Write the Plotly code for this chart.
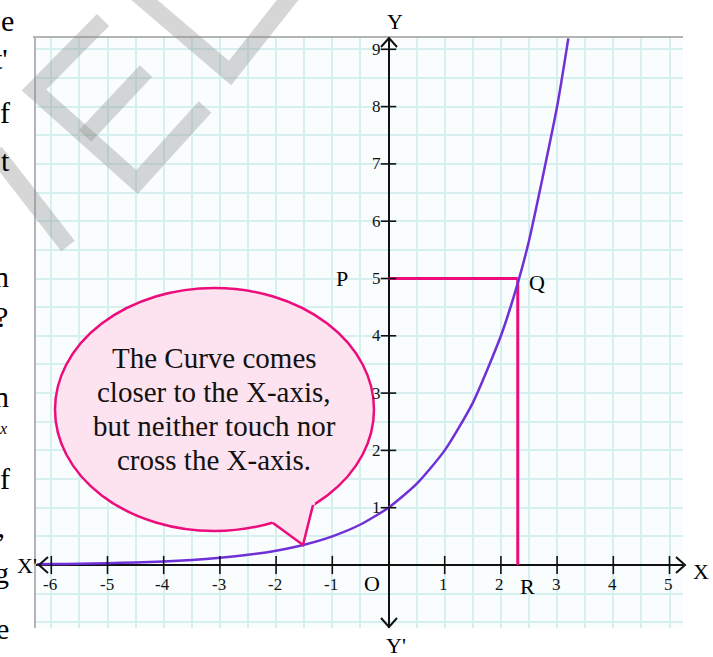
import plotly.graph_objects as go

W, H = 713, 657

# ---------------- data ----------------
curve_x = [-6.25, -6, -5.5, -5, -4.5, -4, -3.5, -3, -2.5, -2, -1.5, -1, -0.5,
           0, 0.5, 1, 1.5, 2, 2.3, 2.5, 3, 3.2]
curve_y = [0.013, 0.016, 0.022, 0.031, 0.044, 0.063, 0.088, 0.125, 0.177, 0.25,
           0.354, 0.5, 0.707, 1.0, 1.414, 2.0, 2.83, 4.0, 4.92, 5.66, 8.0, 9.19]

x_ticks = [-6, -5, -4, -3, -2, -1, 1, 2, 3, 4, 5]
x_tick_labels = ["-6", "-5", "-4", "-3", "-2", "-1", "1", "2", "3", "4", "5"]
y_ticks = [1, 2, 3, 4, 5, 6, 7, 8, 9]
y_tick_labels = ["1", "2", "3", "4", "5", "6", "7", "8", "9"]

q_x = [2.3]
q_y = [5]

bubble_lines = ["The Curve comes", "closer to the X-axis,",
                "but neither touch nor", "cross the X-axis."]

# ---------------- helpers (pixel -> paper) ----------------
def px(x):
    return x / W

def py(y):
    return 1 - y / H

def path(pts, close=False):
    s = "M " + " L ".join(f"{px(a):.5f},{py(b):.5f}" for a, b in pts)
    return s + (" Z" if close else "")

X0_PX, UX = 388.5, 56.2
Y0_PX, UY = 565.0, 57.3
L_PX, R_PX, T_PX, B_PX = 36, 683, 37, 628
x_range = [(L_PX - X0_PX) / UX, (R_PX - X0_PX) / UX]
y_range = [(Y0_PX - B_PX) / UY, (Y0_PX - T_PX) / UY]

SERIF = "Liberation Serif, Times New Roman, serif"
PINK = "#ec0c7c"
CURVE = "#6f30d8"

fig = go.Figure()

# P-Q-R guide lines
fig.add_trace(go.Scatter(x=[0, q_x[0]], y=[q_y[0], q_y[0]], mode="lines",
                         line=dict(color=PINK, width=3), hoverinfo="skip"))
fig.add_trace(go.Scatter(x=[q_x[0], q_x[0]], y=[q_y[0], 0], mode="lines",
                         line=dict(color=PINK, width=3), hoverinfo="skip"))

# the curve
fig.add_trace(go.Scatter(x=curve_x, y=curve_y, mode="lines",
                         line=dict(color=CURVE, width=2.5, shape="spline", smoothing=0.6),
                         hoverinfo="skip"))

# tick marks
fig.add_trace(go.Scatter(x=x_ticks, y=[0] * len(x_ticks), mode="markers",
                         marker=dict(symbol="line-ns", size=13,
                                     line=dict(color="#111", width=1.6)),
                         hoverinfo="skip"))
fig.add_trace(go.Scatter(x=[0] * len(y_ticks), y=y_ticks, mode="markers",
                         marker=dict(symbol="line-ew", size=11,
                                     line=dict(color="#111", width=1.6)),
                         hoverinfo="skip"))

annotations = []
tick_font = dict(family=SERIF, size=17, color="#111")
for v, t in zip(x_ticks, x_tick_labels):
    annotations.append(dict(x=v, y=0, xref="x", yref="y", text=t, showarrow=False,
                            xanchor="center", yanchor="middle",
                            yshift=-19, xshift=-1, font=tick_font))
for v, t in zip(y_ticks, y_tick_labels):
    annotations.append(dict(x=0, y=v, xref="x", yref="y", text=t, showarrow=False,
                            xanchor="center", yanchor="middle",
                            xshift=-12, font=tick_font))

lab_font = dict(family=SERIF, size=22, color="black")

def lab(x, y, text, xref="paper", yref="paper", **kw):
    d = dict(x=x, y=y, xref=xref, yref=yref, text=text, showarrow=False,
             xanchor="center", yanchor="middle", font=lab_font)
    d.update(kw)
    return d

annotations += [
    lab(0, q_y[0], "P", "x", "y", xshift=-47),
    lab(q_x[0], q_y[0], "Q", "x", "y", xshift=19, yshift=-4),
    lab(q_x[0], 0, "R", "x", "y", xshift=10, yshift=-21),
    lab(0, 0, "O", "x", "y", xshift=-17, yshift=-18),
    lab(px(27), py(565), "X'"),
    lab(px(701), py(571), "X"),
    lab(px(395), py(21), "Y"),
    lab(px(396), py(645), "Y'"),
]

# speech bubble text, one line at a time
bubble_font = dict(family=SERIF, size=29, color="#111")
for i, line in enumerate(bubble_lines):
    annotations.append(dict(x=px(214), y=py(358 + 34 * i), xref="paper", yref="paper",
                            xanchor="center", yanchor="middle", text=line,
                            showarrow=False, font=bubble_font))

# fragments of the surrounding page text at the left edge
frag = [("e", 16, 20, 30), ("t'", 10, 58, 30), ("f", 12, 112, 30), ("t", 12, 160, 30),
        ("n", 11, 276, 30), ("?", 10, 316, 30), ("n", 11, 396, 30),
        ("<i>x</i>", 9, 428, 16), ("f", 12, 478, 30), ("’", 8, 542, 30),
        ("g", 11, 572, 30), ("e", 11, 628, 30)]
for t, xr, yc, fs in frag:
    annotations.append(dict(x=px(xr), y=py(yc), xref="paper", yref="paper", text=t,
                            showarrow=False, xanchor="right", yanchor="middle",
                            font=dict(family=SERIF, size=fs, color="black")))

shapes = []
# frame of the graph paper (top & left)
shapes.append(dict(type="line", xref="paper", yref="paper", x0=px(33), x1=px(683),
                   y0=py(37), y1=py(37), line=dict(color="#b4b4b4", width=2)))
shapes.append(dict(type="line", xref="paper", yref="paper", x0=px(35), x1=px(35),
                   y0=py(37), y1=py(628), line=dict(color="#b4b4b4", width=2)))

# axis arrow heads
def chevron(pts):
    return dict(type="path", xref="paper", yref="paper", path=path(pts),
                line=dict(color="#111", width=2), layer="above")

shapes += [
    chevron([(381, 47), (389, 38), (397, 47)]),
    chevron([(381, 618), (389, 627), (397, 618)]),
    chevron([(48, 557), (39, 565), (48, 573)]),
    chevron([(676, 557), (685, 565), (676, 573)]),
]

# speech bubble
shapes.append(dict(type="circle", xref="paper", yref="paper",
                   x0=px(55), x1=px(374), y0=py(531), y1=py(288),
                   fillcolor="#fde2f0", line=dict(color=PINK, width=2.5), layer="above"))
shapes.append(dict(type="path", xref="paper", yref="paper",
                   path=path([(271, 521), (303, 545), (315, 503), (293, 494)], close=True),
                   fillcolor="#fde2f0", line=dict(width=0), layer="above"))
shapes.append(dict(type="path", xref="paper", yref="paper",
                   path=path([(273, 523), (303, 545), (313, 505)]),
                   line=dict(color=PINK, width=2.5), layer="above"))

# grey watermark strokes
WM = dict(color="rgba(140,140,140,0.36)", width=17)
for pts in [
    [(-5, 152), (68, 246)],
    [(103, 20), (34, 90), (137, 182), (205, 107)],
    [(85, 136), (146, 71)],
    [(135, -8), (230, 73), (294, -8)],
]:
    shapes.append(dict(type="path", xref="paper", yref="paper", path=path(pts),
                       line=WM, layer="above"))

fig.update_layout(
    width=W, height=H,
    margin=dict(l=0, r=0, t=0, b=0),
    paper_bgcolor="white",
    plot_bgcolor="#f9fdfd",
    showlegend=False,
    annotations=annotations,
    shapes=shapes,
    xaxis=dict(domain=[px(L_PX), px(R_PX)], range=x_range, tick0=0, dtick=0.5,
               showgrid=True, gridcolor="#d6f0f0", gridwidth=2,
               zeroline=True, zerolinecolor="#111", zerolinewidth=2,
               showticklabels=False, ticks="", showline=False, fixedrange=True),
    yaxis=dict(domain=[py(B_PX), py(T_PX)], range=y_range, tick0=0, dtick=0.5,
               showgrid=True, gridcolor="#d6f0f0", gridwidth=2,
               zeroline=True, zerolinecolor="#111", zerolinewidth=2,
               showticklabels=False, ticks="", showline=False, fixedrange=True),
)

fig.write_html("out.html",
               config={"displayModeBar": False},
               post_script="document.body.style.margin='0px';"
                           "document.body.style.overflow='hidden';")
